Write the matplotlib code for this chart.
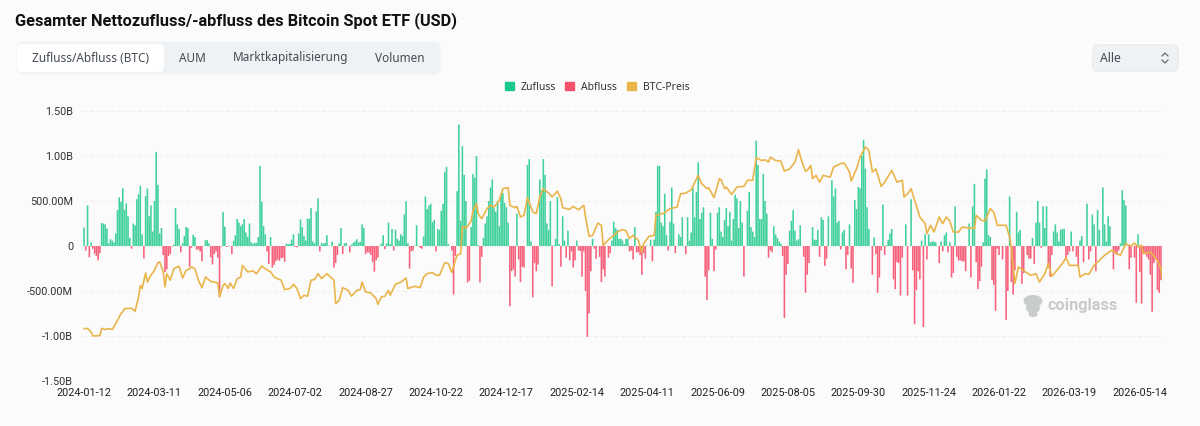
import matplotlib
matplotlib.use("Agg")
import matplotlib.pyplot as plt
from matplotlib.patches import FancyBboxPatch, Patch, Ellipse
import numpy as np

title = "Gesamter Nettozufluss/-abfluss des Bitcoin Spot ETF (USD)"
tabs = ["Zufluss/Abfluss (BTC)", "AUM", "Marktkapitalisierung", "Volumen"]
tick_dates = ["2024-01-12", "2024-03-11", "2024-05-06", "2024-07-02", "2024-08-27", "2024-10-22",
              "2024-12-17", "2025-02-14", "2025-04-11", "2025-06-09", "2025-08-05", "2025-09-30",
              "2025-11-24", "2026-01-22", "2026-03-19", "2026-05-14"]
y_ticks = [1500, 1000, 500, 0, -500, -1000, -1500]
y_labels = ["1.50B", "1.00B", "500.00M", "0", "-500.00M", "-1.00B", "-1.50B"]

# daily net flow in million USD, one value per trading day
flows = [
    205, -50, 450, -125, 40, -30, -85, -110, -160, -80,
    255, 250, 240, 195, 30, 75, 60, 40, 140, 400,
    540, 490, 640, 400, 475, 330, 90, -30, 250, 230,
    520, 575, 670, 130, -140, 555, 640, 330, 450, 160,
    500, 1045, 680, 140, 200, -100, -290, -260, -110, -90,
    -5, 15, 420, 240, 190, -70, 30, 110, 210, 200,
    -230, -20, 125, 100, -40, -40, -60, -170, 5, 65,
    65, 30, -125, -205, -90, -60, -130, -565, -5, 380,
    215, -10, -5, 5, -90, 60, 120, 300, 260, 220,
    240, 300, 150, 100, 250, 40, 25, 35, 35, 100,
    890, 490, 220, 130, -60, -200, 100, -240, -210, -170,
    -150, -165, -135, -130, -175, 25, 20, 25, 70, 130,
    -10, -15, 140, 295, 210, 110, 60, 305, 300, 420,
    50, 30, 385, 530, -60, 35, 25, 35, 120, 5,
    0, 50, -240, -190, -100, 30, 200, -90, 30, 35,
    0, -70, 15, 35, 50, 75, 40, 45, 240, 200,
    -90, -70, -75, -100, -175, -285, -160, -130, 5, 30,
    120, -35, 30, 260, 20, 190, -50, 180, 80, 60,
    130, 110, 350, 495, 30, -250, -60, -50, 5, 230,
    5, -20, -30, 105, 550, 410, 450, 470, 265, 290,
    -60, 190, 180, 390, 470, 820, 880, 20, 0, -50,
    -540, -110, 610, 1350, 280, 1110, 790, 500, -405, -385,
    210, 800, 760, 1000, 10, -405, -120, 90, 250, 330,
    500, 650, 740, 420, 380, 500, 220, 580, 590, 480,
    430, 260, -670, -280, -260, -340, 360, -150, -400, -230,
    -240, 0, 900, 965, 50, -570, -190, -280, -205, 740,
    620, 965, 790, 250, 180, 500, -450, 10, 80, 545,
    20, -230, 330, 60, -130, 170, -160, -60, -240, -160,
    60, -50, -55, -340, -60, -500, -1010, -750, -280, 80,
    -30, -140, 0, -120, -400, -260, -340, 0, -130, -80,
    60, 270, 200, 180, 80, 80, 60, 20, 80, 80,
    -60, -50, -150, 210, -70, -70, -100, -320, -80, -140,
    5, 0, 70, -170, 70, 380, 890, 890, 260, 220,
    580, 120, -50, 270, 650, 250, -80, 0, 130, 100,
    320, 0, -90, 320, 60, 150, 650, 320, 600, 930,
    300, 370, 430, -340, -600, -270, 370, 80, -280, -40,
    370, 430, 160, 100, 290, 420, 220, 380, 60, 300,
    570, 530, 200, 500, 260, -340, 0, 390, 600, 210,
    160, 100, 1170, 900, 300, 300, 800, 500, 360, -130,
    -50, -70, 220, 130, 90, 50, 25, -110, -800, -320,
    -200, 170, 280, 400, 170, 60, 75, 230, 0, -120,
    -520, -320, -190, 0, 210, 70, 70, 180, -120, 320,
    290, -220, -140, 330, 0, 730, 550, 640, 260, 280,
    -40, 150, 180, -260, -100, 240, -250, -410, 510, 410,
    655, 640, 1000, 1180, 860, 430, 190, 0, -320, 95,
    -90, -520, -350, -50, 460, -100, 10, 70, 140, 190,
    -370, -480, -180, -190, -550, -130, 0, 240, -550, 0,
    520, -270, -870, -490, -280, -370, 60, -900, 130, -150,
    130, 40, 50, 50, 40, 0, -190, 50, -60, 120,
    150, -70, 40, -350, -300, 440, -120, -160, -160, -170,
    -170, -280, 0, 250, -350, 440, 690, -180, -480, -390,
    -230, 40, 750, 850, 120, 100, -380, -430, -720, -30,
    -100, 0, -150, 0, -820, -500, 550, -400, -540, -270,
    380, 150, 180, -420, -300, 0, -100, -140, -140, 90,
    -200, 260, 500, 260, -20, 440, 200, 440, -240, -340,
    -100, 160, 240, 150, 50, 180, 190, 190, -150, -100,
    -60, 160, -60, 0, -120, -220, 60, 110, -180, 0,
    470, -150, -60, 350, 240, -280, 400, 180, 0, 650,
    240, 50, 330, 220, 0, -260, -80, -100, -50, 30,
    620, 510, 450, 0, -260, -130, 0, -130, -630, 130,
    -290, -640, -80, -90, -120, -150, -320, -730, -190, -150,
    -490, -520, -380,
]

# BTC price: trading day index and price in thousand USD, read at the turning points
price_day = [
    0, 2, 4, 5, 9, 10, 12, 14, 16, 18,
    21, 22, 23, 27, 29, 31, 32, 33, 35, 36,
    38, 40, 42, 43, 45, 46, 47, 49, 51, 54,
    56, 58, 60, 61, 63, 65, 67, 69, 72, 76,
    77, 79, 80, 82, 83, 85, 87, 89, 90, 93,
    96, 98, 101, 103, 106, 108, 112, 114, 117, 119,
    121, 123, 125, 127, 129, 131, 133, 135, 138, 142,
    143, 145, 147, 150, 152, 155, 157, 158, 160, 163,
    166, 167, 169, 171, 173, 174, 177, 180, 183, 184,
    188, 191, 193, 195, 198, 200, 202, 205, 207, 209,
    211, 212, 214, 215, 216, 217, 220, 221, 223, 224,
    226, 229, 231, 233, 236, 238, 241, 242, 245, 246,
    248, 250, 252, 255, 257, 259, 261, 264, 266, 269,
    271, 272, 276, 278, 281, 284, 285, 287, 289, 292,
    294, 295, 298, 301, 303, 306, 308, 310, 312, 315,
    317, 318, 321, 324, 325, 329, 333, 337, 339, 342,
    345, 349, 351, 354, 355, 358, 361, 362, 364, 365,
    368, 371, 375, 377, 380, 382, 385, 387, 389, 390,
    393, 396, 398, 401, 404, 406, 408, 410, 411, 413,
    414, 416, 418, 420, 424, 426, 430, 432, 435, 436,
    439, 441, 444, 446, 448, 450, 453, 455, 459, 462,
    465, 466, 468, 470, 472, 475, 478, 479, 481, 483,
    486, 488, 490, 492, 494, 497, 499, 506, 507, 510,
    512, 515, 517, 519, 524, 526, 527, 529, 531, 535,
    538, 541, 543, 546, 548, 550, 556, 558, 560, 565,
    566, 569, 571, 574, 580, 584, 587, 589, 592, 595,
    597, 599, 601, 602, 606, 610, 612, 613,
]
price_k = [
    43.3, 43.3, 41.8, 40.0, 40.2, 43.4, 42.9, 43.3, 42.9, 45.5,
    50.0, 50.7, 52.2, 52.3, 51.0, 57.4, 62.5, 61.1, 68.0, 64.0,
    67.0, 69.2, 72.6, 72.9, 68.5, 61.8, 67.7, 64.8, 69.9, 71.0,
    65.8, 69.2, 69.9, 70.7, 69.9, 64.8, 61.4, 66.2, 64.3, 63.6,
    57.4, 62.5, 63.3, 61.1, 63.6, 61.1, 65.5, 66.2, 71.4, 68.5,
    68.9, 67.7, 71.1, 69.9, 68.5, 66.2, 64.8, 60.6, 61.1, 63.0,
    61.1, 56.6, 58.1, 57.7, 64.8, 65.1, 67.7, 65.5, 67.7, 64.8,
    54.4, 55.9, 61.5, 60.3, 57.7, 60.3, 60.6, 64.0, 59.6, 59.1,
    56.6, 54.1, 57.4, 57.7, 60.3, 58.1, 63.0, 63.9, 65.8, 61.1,
    62.1, 61.5, 66.2, 67.7, 68.2, 67.0, 67.0, 72.6, 72.2, 68.2,
    73.6, 75.9, 76.6, 88.4, 88.7, 87.7, 91.1, 95.8, 98.8, 94.4,
    92.1, 96.6, 98.1, 97.3, 100.3, 105.5, 105.9, 98.1, 97.0, 97.6,
    92.9, 93.6, 101.5, 95.1, 94.4, 101.8, 105.5, 103.5, 101.8, 104.4,
    101.0, 97.0, 96.3, 97.6, 96.1, 98.1, 92.9, 84.3, 84.7, 90.2,
    89.2, 80.3, 82.8, 84.7, 86.2, 87.3, 86.7, 83.3, 84.7, 82.5,
    77.3, 81.0, 84.3, 84.7, 93.6, 94.4, 96.6, 97.3, 103.2, 103.5,
    105.0, 111.4, 107.7, 105.5, 105.9, 101.5, 109.9, 109.5, 105.5, 106.2,
    102.9, 106.2, 106.5, 109.2, 109.2, 119.2, 118.0, 118.3, 117.3, 119.5,
    118.0, 117.7, 113.3, 114.3, 117.3, 122.8, 117.3, 113.2, 113.6, 115.8,
    109.9, 111.4, 108.4, 111.4, 110.6, 115.1, 116.6, 116.9, 112.9, 108.9,
    114.3, 119.5, 124.0, 122.5, 112.9, 114.3, 106.5, 108.4, 113.6, 108.4,
    109.2, 101.8, 103.2, 105.5, 100.3, 92.9, 89.9, 85.5, 89.2, 86.2,
    92.9, 89.9, 92.9, 91.1, 86.2, 86.2, 88.4, 87.7, 93.6, 91.4,
    91.1, 96.6, 95.1, 89.2, 89.2, 84.0, 78.8, 63.3, 70.7, 68.5,
    67.0, 67.7, 64.0, 67.7, 72.2, 66.5, 72.2, 74.8, 71.4, 71.4,
    66.2, 67.7, 67.4, 71.4, 75.9, 78.1, 76.6, 75.9, 81.0, 80.0,
    81.3, 79.6, 80.3, 76.6, 77.3, 73.6, 69.9, 64.8,
]

green = "#3fd09c"
red = "#f6607a"
orange = "#e9b54b"
bg = "#fbfbfb"
W, H = 1200, 426

plt.rcParams["font.family"] = ["Noto Sans", "DejaVu Sans"]
fig = plt.figure(figsize=(W / 100, H / 100), dpi=100, facecolor=bg)

# page furniture in pixel coordinates
page = fig.add_axes([0, 0, 1, 1])
page.set_xlim(0, W)
page.set_ylim(H, 0)
page.axis("off")
page.text(15, 21, title, fontsize=11.8, fontweight="bold", color="#111111", va="center",
          family=["Roboto", "DejaVu Sans"])
page.add_patch(FancyBboxPatch((17, 42), 423, 32, boxstyle="round,pad=0,rounding_size=6",
                              fc="#eff2f5", ec="#f3f4f6", lw=1))
page.add_patch(FancyBboxPatch((17, 44), 147, 28, boxstyle="round,pad=0,rounding_size=5",
                              fc="white", ec="none"))
for label, cx in zip(tabs, [91, 192, 291, 400]):
    page.text(cx, 58, label, fontsize=8.5, color="#444b55", ha="center", va="center")
page.add_patch(FancyBboxPatch((1093, 45), 85, 26, boxstyle="round,pad=0,rounding_size=5",
                              fc="#eff2f5", ec="#e9ebef", lw=1))
page.text(1100, 58, "Alle", fontsize=8.8, color="#444b55", va="center")
page.plot([1162, 1165, 1168], [56, 53, 56], color="#555b64", lw=0.8)
page.plot([1162, 1165, 1168], [60, 63, 60], color="#555b64", lw=0.8)

# watermark
for cx, cy, w, h in [(1033, 301, 19, 12), (1033, 308, 14, 11), (1033, 314, 9, 6)]:
    page.add_patch(Ellipse((cx, cy), w, h, fc="#c9cccd", ec="none"))
page.text(1047, 305.5, "coinglass", fontsize=11.8, fontweight="bold", color="#c8cbcd", va="center",
          family=["Roboto", "DejaVu Sans"])

# chart axes: 1.50B at y=111 and -1.50B at y=381
ax = fig.add_axes([83 / W, 1 - 381 / H, (1162 - 83) / W, 270 / H])
ax.patch.set_alpha(0)
days = np.arange(len(flows))
flows_arr = np.array(flows)
bars = ax.bar(days, flows_arr, width=0.9, color=[green if v >= 0 else red for v in flows], linewidth=0)
for b in bars:
    b.set_snap(False)
ax.set_xlim(-0.6, len(flows) - 0.4)
ax.set_ylim(-1500, 1500)
ax.set_yticks(y_ticks)
ax.set_yticklabels(y_labels, family=["Roboto", "DejaVu Sans"], fontsize=7.8, color="#333333")
ax.set_xticks(np.arange(len(tick_dates)) * 40)
ax.set_xticklabels(tick_dates, family=["Roboto", "DejaVu Sans"], fontsize=7.8, color="#222222")
ax.tick_params(axis="both", length=0)
ax.tick_params(axis="x", pad=5)
ax.tick_params(axis="y", pad=7)
ax.grid(axis="y", color="#eeeeee", lw=0.7, ls=(0, (4, 3)))
ax.set_axisbelow(True)
for s in ax.spines.values():
    s.set_visible(False)

# price runs on its own hidden scale
ax2 = ax.twinx()
ax2.plot(price_day, np.array(price_k) * 1000, color=orange, lw=1.2, solid_joinstyle="round")
ax2.set_ylim(20000, 140000)
ax2.axis("off")

handles = [Patch(color="#17c98a"), Patch(color="#f5506c"), Patch(color=orange)]
fig.legend(handles, ["Zufluss", "Abfluss", "BTC-Preis"], loc="center",
           bbox_to_anchor=(597 / W, 1 - 87 / H), ncol=3, frameon=False, fontsize=7.5,
           handlelength=0.86, handleheight=0.86, handletextpad=0.67, columnspacing=0.91,
           labelcolor="#333333")

fig.savefig("out.png", dpi=100, facecolor=bg)
